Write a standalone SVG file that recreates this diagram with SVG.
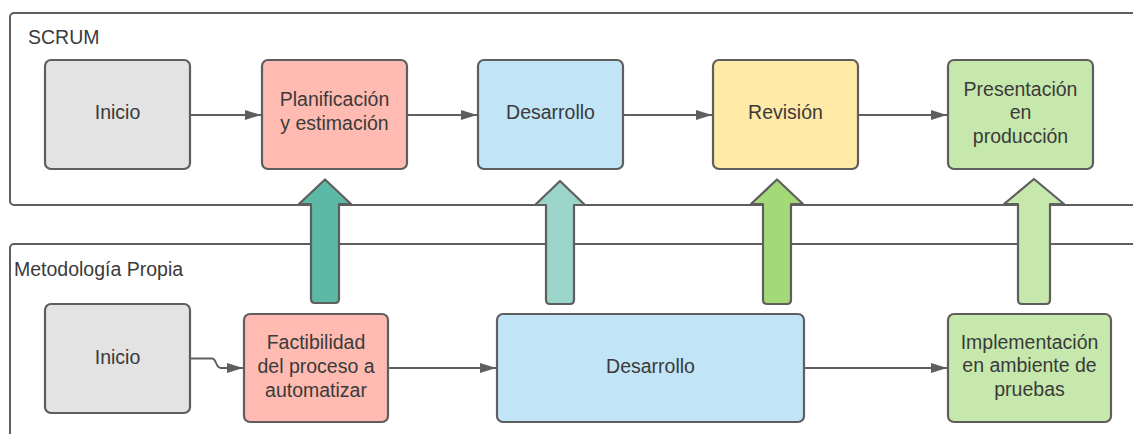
<svg xmlns="http://www.w3.org/2000/svg" width="1133" height="434" viewBox="0 0 1133 434">
  <defs>
    <style>
      .lane { fill: #ffffff; stroke: #5e5e5e; stroke-width: 2; }
      .lane-title { font-family: "Liberation Sans", Arial, sans-serif; font-size: 19.5px; fill: #3a3a3a; }
      .box { stroke: #5e5e5e; stroke-width: 2.2; }
      .label { font-family: "Liberation Sans", Arial, sans-serif; font-size: 19.5px; fill: #3a3a3a; text-anchor: middle; }
      .flow { fill: none; stroke: #5e5e5e; stroke-width: 1.8; marker-end: url(#head); }
      .lift { stroke: #5e5e5e; stroke-width: 2.2; stroke-linejoin: round; }
      .gray { fill: #e3e3e3; }
      .pink { fill: #ffbbb1; }
      .blue { fill: #c1e4f7; }
      .yellow { fill: #ffe9a6; }
      .green { fill: #c7e8ac; }
    </style>
    <marker id="head" viewBox="0 0 16 10" refX="16" refY="5" markerWidth="16" markerHeight="10" markerUnits="userSpaceOnUse" orient="auto">
      <path d="M0,0 L16,5 L0,10 Z" fill="#5e5e5e"/>
    </marker>
  </defs>

  <!-- Swimlane containers -->
  <g id="lane-scrum">
    <rect class="lane" x="10" y="13" width="1160" height="192" rx="4"/>
    <text class="lane-title" x="28" y="44">SCRUM</text>
  </g>
  <g id="lane-propia">
    <rect class="lane" x="10" y="244" width="1160" height="220" rx="4"/>
    <text class="lane-title" x="14" y="276">Metodología Propia</text>
  </g>

  <!-- Flow connectors -->
  <g id="connectors">
    <line class="flow" x1="191" y1="115" x2="261" y2="115"/>
    <line class="flow" x1="408" y1="115" x2="477" y2="115"/>
    <line class="flow" x1="624" y1="115" x2="712" y2="115"/>
    <line class="flow" x1="859" y1="115" x2="947" y2="115"/>
    <path class="flow" d="M191,358.5 H212 C217,358.5 215,368 221,368 H243"/>
    <line class="flow" x1="389" y1="368" x2="496" y2="368"/>
    <line class="flow" x1="805" y1="368" x2="947" y2="368"/>
  </g>

  <!-- SCRUM phases -->
  <g id="scrum-inicio">
    <rect class="box gray" x="45" y="60" width="145" height="109" rx="6"/>
    <text class="label" x="117.5" y="119">Inicio</text>
  </g>
  <g id="scrum-planificacion">
    <rect class="box pink" x="262" y="60" width="145" height="109" rx="6"/>
    <text class="label" x="334.5" y="106">Planificación</text>
    <text class="label" x="334.5" y="130">y estimación</text>
  </g>
  <g id="scrum-desarrollo">
    <rect class="box blue" x="478" y="60" width="145" height="109" rx="6"/>
    <text class="label" x="550.5" y="119">Desarrollo</text>
  </g>
  <g id="scrum-revision">
    <rect class="box yellow" x="713" y="60" width="145" height="109" rx="6"/>
    <text class="label" x="785.5" y="119">Revisión</text>
  </g>
  <g id="scrum-presentacion">
    <rect class="box green" x="948" y="60" width="145" height="109" rx="6"/>
    <text class="label" x="1020.5" y="95.5">Presentación</text>
    <text class="label" x="1020.5" y="119">en</text>
    <text class="label" x="1020.5" y="142.5">producción</text>
  </g>

  <!-- Own methodology phases -->
  <g id="propia-inicio">
    <rect class="box gray" x="45" y="304" width="145" height="109" rx="6"/>
    <text class="label" x="117.5" y="364">Inicio</text>
  </g>
  <g id="propia-factibilidad">
    <rect class="box pink" x="244" y="314" width="144" height="108" rx="6"/>
    <text class="label" x="316" y="349">Factibilidad</text>
    <text class="label" x="316" y="373">del proceso a</text>
    <text class="label" x="316" y="397">automatizar</text>
  </g>
  <g id="propia-desarrollo">
    <rect class="box blue" x="497" y="314" width="307" height="108" rx="6"/>
    <text class="label" x="650.5" y="373">Desarrollo</text>
  </g>
  <g id="propia-implementacion">
    <rect class="box green" x="948" y="314" width="163" height="108" rx="6"/>
    <text class="label" x="1029.5" y="348.5">Implementación</text>
    <text class="label" x="1029.5" y="372">en ambiente de</text>
    <text class="label" x="1029.5" y="396">pruebas</text>
  </g>

  <!-- Correspondence arrows between the two methodologies -->
  <g id="mappings">
    <path class="lift" fill="#5cb9a6" d="M325,179.5 L351,204 L339,204 V299 Q339,303 335,303 H315 Q311,303 311,299 V204 L299,204 Z"/>
    <path class="lift" fill="#9bd5c9" d="M560,181 L585,205 L574,205 V300 Q574,304 570,304 H550 Q546,304 546,300 V205 L535,205 Z"/>
    <path class="lift" fill="#a3d977" d="M777,179.5 L803,204 L791,204 V300 Q791,304 787,304 H767 Q763,304 763,300 V204 L751,204 Z"/>
    <path class="lift" fill="#c7e8ac" d="M1034,179 L1064,204 L1050,204 V300 Q1050,304 1046,304 H1022 Q1018,304 1018,300 V204 L1004,204 Z"/>
  </g>
</svg>
